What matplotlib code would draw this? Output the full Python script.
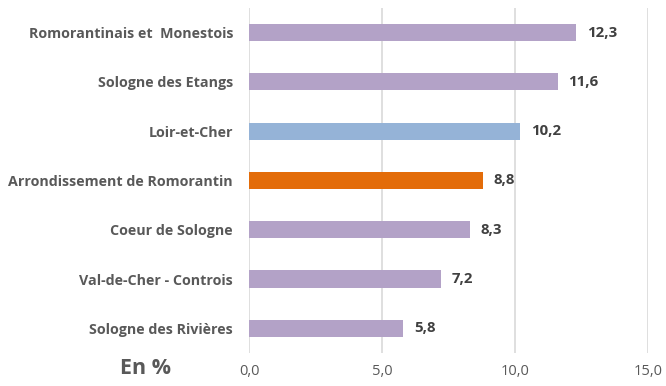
import matplotlib.pyplot as plt

# Taux par territoire, en %
territoires = ["Romorantinais et  Monestois", "Sologne des Etangs", "Loir-et-Cher",
               "Arrondissement de Romorantin", "Coeur de Sologne",
               "Val-de-Cher - Controis", "Sologne des Rivières"]
valeurs = [12.3, 11.6, 10.2, 8.8, 8.3, 7.2, 5.8]
couleurs = ["#B3A2C7", "#B3A2C7", "#95B3D7", "#E36C09", "#B3A2C7", "#B3A2C7", "#B3A2C7"]
graduations = [0, 5, 10, 15]

plt.rcParams['font.family'] = ['Open Sans', 'DejaVu Sans']

fig = plt.figure(figsize=(6.66, 3.86), dpi=100)
ax = fig.add_axes([0.374, 0.0855, 0.599, 0.894])

pos = list(range(len(territoires)))
ax.barh(pos, valeurs, height=0.35, color=couleurs, zorder=3)
ax.set_ylim(len(territoires) - 0.5, -0.5)
ax.set_xlim(0, 15)

for p, v in zip(pos, valeurs):
    ax.text(v + 0.4, p, f"{v:.1f}".replace(".", ","), va="center", ha="left",
            fontsize=10.8, fontweight="bold", color="#404040")

ax.set_yticks(pos)
ax.set_yticklabels(territoires, fontsize=10.3, fontweight="bold", color="#595959")
ax.set_xticks(graduations)
ax.set_xticklabels([f"{g:.1f}".replace(".", ",") for g in graduations],
                   fontsize=10.5, color="#595959")
ax.tick_params(axis="y", length=0, pad=11.5)
ax.tick_params(axis="x", length=0, pad=8)

ax.grid(axis="x", color="#D9D9D9", linewidth=1.2, zorder=0)
for s in ["top", "right", "bottom", "left"]:
    ax.spines[s].set_visible(False)

fig.text(0.218, 0.045, "En %", fontsize=15.5, fontweight="bold", color="#595959",
         ha="center", va="center")

fig.savefig("out.png")
